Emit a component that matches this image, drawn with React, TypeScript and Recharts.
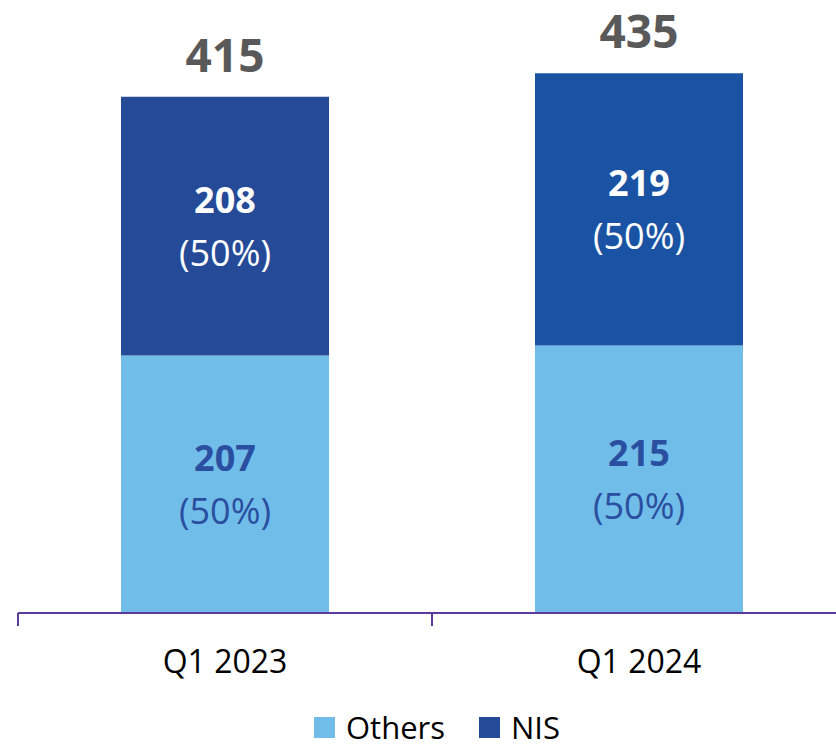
import { BarChart, Bar, XAxis, YAxis, Legend, Cell, LabelList } from 'recharts';

const quarters = ['Q1 2023', 'Q1 2024'];
const others = [207, 215];
const nis = [208, 219];
const totals = [415, 435];
const othersShare = ['(50%)', '(50%)'];
const nisShare = ['(50%)', '(50%)'];

const data = quarters.map((q, i) => ({ quarter: q, others: others[i], nis: nis[i] }));

const FONT = '"Open Sans", sans-serif';
const LIGHT = '#71BDE9';
const NIS_COLORS = ['#244A98', '#1A53A3'];
const HALF_BAND = 207;
const PLOT_BOTTOM = 613;

const SegmentLabel = (color: string, shares: string[]) => (props: any) => {
  const { x, y, width, height, value, index } = props;
  const cx = x + width / 2;
  const cy = y + height / 2;
  return (
    <g fontFamily={FONT} fill={color} textAnchor="middle">
      <text x={cx} y={cy - 13} fontSize={36} fontWeight={700}>{value}</text>
      <text x={cx} y={cy + 40} fontSize={36}>{shares[index]}</text>
    </g>
  );
};

const TotalLabel = (props: any) => {
  const { x, y, width, index } = props;
  return (
    <text x={x + width / 2} y={y - 25} textAnchor="middle" fontFamily={FONT} fontSize={46} fontWeight={700} fill="#595959">
      {totals[index]}
    </text>
  );
};

const QuarterTick = (props: any) => {
  const { x, payload } = props;
  return (
    <g>
      <line x1={x - HALF_BAND} x2={x - HALF_BAND} y1={PLOT_BOTTOM} y2={PLOT_BOTTOM + 13} stroke="#5B3C9C" strokeWidth={2} />
      <text x={x} y={PLOT_BOTTOM + 60} textAnchor="middle" fontFamily={FONT} fontSize={32} fill="#000">
        {payload.value}
      </text>
    </g>
  );
};

const LegendContent = () => (
  <div style={{ display: 'flex', justifyContent: 'center', alignItems: 'center', gap: 34, height: 32, paddingTop: 18, fontFamily: FONT, fontSize: 31, lineHeight: 1, color: '#000', paddingLeft: 10, boxSizing: 'content-box' }}>
    <span style={{ display: 'flex', alignItems: 'center', gap: 11 }}>
      <span style={{ width: 21, height: 21, background: LIGHT, display: 'inline-block' }} />
      Others
    </span>
    <span style={{ display: 'flex', alignItems: 'center', gap: 11 }}>
      <span style={{ width: 21, height: 21, background: NIS_COLORS[0], display: 'inline-block' }} />
      NIS
    </span>
  </div>
);

export default function App() {
  return (
    <div style={{ position: 'absolute', left: 0, top: 0, width: 836, height: 748, overflow: 'hidden', background: '#fff' }}>
      <BarChart width={846} height={748} data={data} margin={{ top: 16, right: 0, left: 18, bottom: 0 }} barSize={208}>
        <XAxis
          dataKey="quarter"
          height={80}
          tickLine={false}
          axisLine={{ stroke: '#5B3C9C', strokeWidth: 2 }}
          tick={<QuarterTick />}
          interval={0}
        />
        <YAxis hide domain={[0, 480]} />
        <Legend verticalAlign="bottom" height={55} content={<LegendContent />} />
        <Bar dataKey="others" stackId="a" fill={LIGHT} isAnimationActive={false}>
          <LabelList dataKey="others" content={SegmentLabel('#2A4FA0', othersShare)} />
        </Bar>
        <Bar dataKey="nis" stackId="a" fill={NIS_COLORS[0]} isAnimationActive={false}>
          {data.map((_, i) => (
            <Cell key={i} fill={NIS_COLORS[i]} />
          ))}
          <LabelList dataKey="nis" content={SegmentLabel('#fff', nisShare)} />
          <LabelList dataKey="nis" content={TotalLabel} />
        </Bar>
      </BarChart>
    </div>
  );
}
